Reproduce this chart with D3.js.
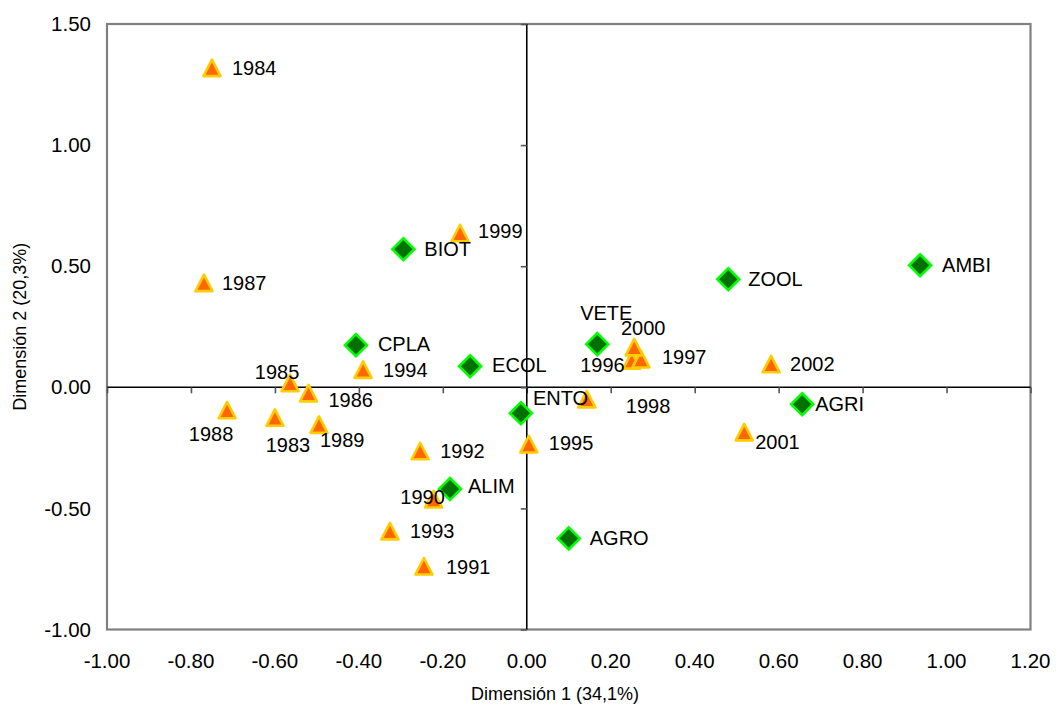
<!DOCTYPE html>
<html>
<head>
<meta charset="utf-8">
<script src="https://cdn.jsdelivr.net/npm/d3@7"></script>
<style>
  html, body { margin: 0; padding: 0; background: #fff; }
  svg { display: block; font-family: "Liberation Sans", Arial, sans-serif; }
</style>
</head>
<body>
<svg id="chart" width="1056" height="709"></svg>
<script>
// Correspondence analysis map: years (triangles) and disciplines (diamonds)
const yearNames = ["1983","1984","1985","1986","1987","1988","1989","1990","1991","1992",
                   "1993","1994","1995","1996","1997","1998","1999","2000","2001","2002"];
const yearDim1  = [-0.600,-0.750,-0.564,-0.520,-0.769,-0.714,-0.495,-0.222,-0.245,-0.254,
                   -0.326,-0.390, 0.005, 0.250, 0.272, 0.143,-0.159, 0.256, 0.518, 0.582];
const yearDim2  = [-0.126, 1.318, 0.017,-0.025, 0.430,-0.095,-0.155,-0.463,-0.740,-0.264,
                   -0.595, 0.072,-0.236, 0.110, 0.115,-0.050, 0.636, 0.165,-0.186, 0.095];

const fieldNames = ["AGRI","AGRO","ALIM","AMBI","BIOT","CPLA","ECOL","ENTO","VETE","ZOOL"];
const fieldDim1  = [ 0.656, 0.100,-0.183, 0.937,-0.294,-0.407,-0.135,-0.014, 0.168, 0.480];
const fieldDim2  = [-0.070,-0.624,-0.420, 0.504, 0.570, 0.174, 0.087,-0.107, 0.178, 0.446];

const xTicks = [-1.0,-0.8,-0.6,-0.4,-0.2,0.0,0.2,0.4,0.6,0.8,1.0,1.2];
const yTicks = [-1.0,-0.5,0.0,0.5,1.0,1.5];

const xTitle = "Dimensión 1 (34,1%)";
const yTitle = "Dimensión 2 (20,3%)";

// label placement: [dx, dy, anchor] relative to the marker centre
const labelPlace = {
  "1983": [13, 27, "middle"], "1984": [20, 0, "start"], "1985": [-13, -11, "middle"],
  "1986": [20, 7, "start"],   "1987": [18, 0, "start"], "1988": [-16, 24, "middle"],
  "1989": [1, 15, "start"],   "1990": [-11, -2, "middle"], "1991": [22, 0, "start"],
  "1992": [20, 0, "start"],   "1993": [20, 0, "start"], "1994": [20, 0, "start"],
  "1995": [20, -1, "start"],  "1996": [-7, 4, "end"],  "1997": [21, -2, "start"],
  "1998": [39, 7, "start"],   "1999": [18, -2, "start"], "2000": [9, -19, "middle"],
  "2001": [11, 10, "start"],  "2002": [19, 0, "start"],
  "AGRI": [13, 0, "start"], "AGRO": [21, 0, "start"], "ALIM": [18, -3, "start"],
  "AMBI": [22, 0, "start"], "BIOT": [21, 0, "start"], "CPLA": [22, -1, "start"],
  "ECOL": [22, -1, "start"], "ENTO": [12, -15, "start"], "VETE": [9, -31, "middle"],
  "ZOOL": [20, 0, "start"]
};

const svg = d3.select("#chart");
const plot = { left: 107, right: 1030.5, top: 24, bottom: 629.5 };

const x = d3.scaleLinear().domain([-1.0, 1.2]).range([plot.left, plot.right]);
const y = d3.scaleLinear().domain([-1.0, 1.5]).range([plot.bottom, plot.top]);

const fmt = v => d3.format(".2f")(v).replace("\u2212", "-");

// plot frame
svg.append("rect")
  .attr("x", plot.left).attr("y", plot.top)
  .attr("width", plot.right - plot.left).attr("height", plot.bottom - plot.top)
  .attr("fill", "none").attr("stroke", "#808080").attr("stroke-width", 2.2);

// tick labels on the frame
svg.append("g").selectAll("text").data(xTicks).join("text")
  .attr("x", d => x(d)).attr("y", 668)
  .attr("text-anchor", "middle").attr("font-size", 20.5).attr("fill", "#000")
  .text(fmt);

svg.append("g").selectAll("text").data(yTicks).join("text")
  .attr("x", 91).attr("y", d => y(d)).attr("dy", "0.35em")
  .attr("text-anchor", "end").attr("font-size", 20.5).attr("fill", "#000")
  .text(fmt);

// axes through the origin
const xAxis = d3.axisBottom(x).tickValues(xTicks).tickSize(6).tickFormat("");
const gx = svg.append("g").attr("transform", `translate(0,${y(0)})`).call(xAxis);
const yAxis = d3.axisLeft(y).tickValues(yTicks).tickSize(6).tickFormat("");
const gy = svg.append("g").attr("transform", `translate(${x(0)},0)`).call(yAxis);
[gx, gy].forEach(g => {
  g.select(".domain").attr("stroke", "#000").attr("stroke-width", 1.6).attr("d", null);
  g.selectAll(".tick line").attr("stroke", "#555").attr("stroke-width", 1.6);
});
gx.select(".domain").attr("d", `M${plot.left},0H${plot.right}`);
gy.select(".domain").attr("d", `M0,${plot.top}V${plot.bottom}`);

// axis titles
svg.append("text").attr("x", 555).attr("y", 700)
  .attr("text-anchor", "middle").attr("font-size", 18).text(xTitle);
svg.append("text")
  .attr("transform", `translate(26,${(plot.top + plot.bottom) / 2}) rotate(-90)`)
  .attr("text-anchor", "middle").attr("font-size", 18).text(yTitle);

const years = yearNames.map((n, i) => ({ name: n, a: yearDim1[i], b: yearDim2[i] }));
const fields = fieldNames.map((n, i) => ({ name: n, a: fieldDim1[i], b: fieldDim2[i] }));

// triangles for years
const tri = "M0,-8.5L8.5,8L-8.5,8Z";
svg.append("g").selectAll("path").data(years).join("path")
  .attr("transform", d => `translate(${x(d.a)},${y(d.b)})`)
  .attr("d", tri)
  .attr("fill", "#FF6600").attr("stroke", "#FFCC00")
  .attr("stroke-width", 2.6).attr("stroke-linejoin", "round");

// diamonds for disciplines
const dia = "M0,-11L11,0L0,11L-11,0Z";
svg.append("g").selectAll("path").data(fields).join("path")
  .attr("transform", d => `translate(${x(d.a)},${y(d.b)})`)
  .attr("d", dia)
  .attr("fill", "#007000").attr("stroke", "#00FF00")
  .attr("stroke-width", 2.6);

// point labels
svg.append("g").selectAll("text").data(years.concat(fields)).join("text")
  .attr("x", d => x(d.a) + labelPlace[d.name][0])
  .attr("y", d => y(d.b) + labelPlace[d.name][1])
  .attr("dy", "0.35em")
  .attr("text-anchor", d => labelPlace[d.name][2])
  .attr("font-size", 20).attr("fill", "#000")
  .text(d => d.name);
</script>
</body>
</html>
